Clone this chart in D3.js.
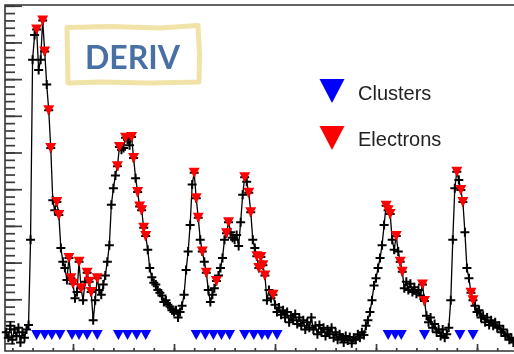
<!DOCTYPE html>
<html>
<head>
<meta charset="utf-8">
<script src="https://cdn.jsdelivr.net/npm/d3@7"></script>
<style>
  body { margin: 0; background: #fff; }
  svg { display: block; }
  .leg-text { font-family: "Liberation Sans", Arial, sans-serif; font-size: 20px; fill: #222; }
  .tag { font-family: Lato, "Open Sans", sans-serif; font-weight: 700; font-size: 32px; fill: #4a6fa5; }
</style>
</head>
<body>
<svg id="chart" width="514" height="354"></svg>
<script>
// waveform: one sample every 2 ns from t0 (amplitude in mV)
var t0 = 34, dt = 2;
var signal = [
  4, -2, 11, -4, 7, 0, 9, -7, 4, -2, 7, 12, 105, 301, 328, 334, 290, 301, 344, 310,
  274, 246, 205, 148, 137, 146, 132, 96, 81, 74, 61, 85, 63, 57, 41, 48, 81, 52, 39, 59,
  69, 59, 48, 17, 39, 63, 50, 45, 56, 66, 81, 99, 143, 161, 175, 185, 206, 203, 205, 216,
  214, 208, 217, 194, 172, 157, 141, 137, 118, 109, 94, 74, 64, 58, 56, 50, 47, 44, 37, 39,
  34, 32, 28, 26, 28, 20, 26, 33, 45, 72, 92, 121, 165, 178, 150, 129, 105, 92, 81, 69,
  50, 37, 45, 52, 60, 66, 74, 85, 105, 112, 124, 113, 107, 105, 110, 98, 124, 154, 173, 168,
  156, 135, 105, 96, 87, 74, 86, 77, 66, 39, 50, 41, 45, 34, 26, 31, 23, 28, 20, 26,
  15, 22, 17, 24, 13, 20, 11, 17, 7, 15, 9, 20, 7, 11, 2, 12, 4, 9, 0, 7,
  2, 9, -2, 4, -4, 2, -2, -7, 0, -5, -1, -8, -2, -4, 2, -2, 4, 1, 11, 17,
  26, 39, 55, 63, 74, 85, 99, 121, 142, 137, 133, 105, 94, 109, 92, 81, 70, 52, 59, 50,
  57, 48, 53, 46, 50, 44, 56, 38, 22, 15, 20, 9, 13, 4, 7, 0, 7, -2, 2, 9,
  39, 105, 161, 179, 170, 159, 146, 113, 74, 63, 47, 39, 33, 26, 28, 20, 22, 15, 20, 12,
  17, 11, 15, 9, 11, 4, 7, 0, 2, -4, -2, -7
];
// samples tagged as electrons (ns)
var electronTimes = [64, 70, 72, 76, 78, 84, 86, 96, 98, 100, 106, 108, 114, 116, 118, 124,
  144, 146, 152, 158, 160, 164, 166, 168, 170, 172, 220, 222, 224, 228, 232, 242, 252, 254,
  270, 274, 276, 282, 284, 286, 288, 290, 298, 410, 412, 414, 420, 424, 426, 446, 448,
  480, 484, 486, 494, 496];
// reconstructed clusters (ns)
var clusterTimes = [64, 72, 79, 87, 99, 106, 114, 124, 145, 154, 163, 172, 222, 231, 239, 247,
  255, 270, 279, 287, 293, 302, 412, 419, 425, 448, 483, 496];
var clusterLevel = 1;
var legendItems = ["Clusters", "Electrons"];
var tagText = "DERIV";

var legendColors = ["#0000ff", "#ff0000"];

var svg = d3.select("#chart");

// soft look of the original screenshot
svg.append("defs").append("filter").attr("id", "soft")
  .append("feGaussianBlur").attr("stdDeviation", 0.45);

var root = svg.append("g").attr("filter", "url(#soft)");

var x = d3.scaleLinear().domain([32.7, 536.6]).range([5, 514]);
var y = d3.scaleLinear().domain([-15.3, 360.8]).range([350, 5]);

var pts = signal.map(function(v, i) { return {t: t0 + i * dt, v: v}; });
function valueAt(t) { return pts[Math.round((t - t0) / dt)].v; }

// frame lines
root.append("path")
  .attr("d", "M514,5H5V351H514")
  .attr("fill", "none")
  .attr("stroke", "#333")
  .attr("stroke-width", 1.6);

// left axis ticks (minor every 8, major every 40)
function styleAxis(g) {
  g.select(".domain").remove();
  g.selectAll(".tick line").attr("stroke", "#3a3a3a").attr("stroke-width", 1.7);
}
root.append("g").attr("transform", "translate(5,0)")
  .call(d3.axisRight(y).tickValues(d3.range(-8, 361, 8)).tickSize(10).tickFormat(""))
  .call(styleAxis);
root.append("g").attr("transform", "translate(5,0)")
  .call(d3.axisRight(y).tickValues(d3.range(0, 361, 40)).tickSize(17).tickFormat(""))
  .call(styleAxis);

// bottom axis ticks (minor every 20, major every 100)
root.append("g").attr("transform", "translate(0,351)")
  .call(d3.axisTop(x).tickValues(d3.range(40, 537, 20)).tickSize(3).tickFormat(""))
  .call(styleAxis);
root.append("g").attr("transform", "translate(0,351)")
  .call(d3.axisTop(x).tickValues(d3.range(100, 537, 100)).tickSize(7).tickFormat(""))
  .call(styleAxis);

// waveform line + markers
var line = d3.line().x(d => x(d.t)).y(d => y(d.v));
root.append("path")
  .datum(pts)
  .attr("d", line)
  .attr("fill", "none")
  .attr("stroke", "#000")
  .attr("stroke-width", 1.3);

root.append("g").selectAll("path")
  .data(pts).enter()
  .append("path")
  .attr("d", "M-4.5,0H4.5M0,-4.5V4.5")
  .attr("transform", d => "translate(" + x(d.t) + "," + y(d.v) + ")")
  .attr("stroke", "#000")
  .attr("stroke-width", 2);

var tri = "M-5.5,-5H5.5L0,5Z";

// clusters
root.append("g").selectAll("path")
  .data(clusterTimes).enter()
  .append("path")
  .attr("d", tri)
  .attr("transform", d => "translate(" + x(d) + "," + y(clusterLevel) + ")")
  .attr("fill", legendColors[0]);

// electrons
root.append("g").selectAll("path")
  .data(electronTimes).enter()
  .append("path")
  .attr("d", tri)
  .attr("transform", d => "translate(" + x(d) + "," + y(valueAt(d)) + ")")
  .attr("fill", legendColors[1]);

// legend
var legend = root.append("g");
legend.selectAll("path")
  .data(legendItems).enter()
  .append("path")
  .attr("d", "M-12.5,-12H12.5L0,12Z")
  .attr("transform", (d, i) => "translate(332," + (91 + i * 47) + ")")
  .attr("fill", (d, i) => legendColors[i]);
legend.selectAll("text")
  .data(legendItems).enter()
  .append("text")
  .attr("class", "leg-text")
  .attr("x", 358)
  .attr("y", (d, i) => 100 + i * 46)
  .text(d => d);

// hand drawn tag box
var boxLine = d3.line().curve(d3.curveLinearClosed);
root.append("path")
  .attr("d", boxLine([[67, 27.5], [110, 26.5], [160, 28], [198, 25.5], [199.5, 55], [199, 82],
    [150, 83], [100, 82], [68, 83], [67.5, 55]]))
  .attr("fill", "none")
  .attr("stroke", "#f1e3a8")
  .attr("stroke-width", 5)
  .attr("stroke-linejoin", "round");
root.append("text")
  .attr("class", "tag")
  .attr("x", 85)
  .attr("y", 69)
  .text(tagText);
</script>
</body>
</html>
